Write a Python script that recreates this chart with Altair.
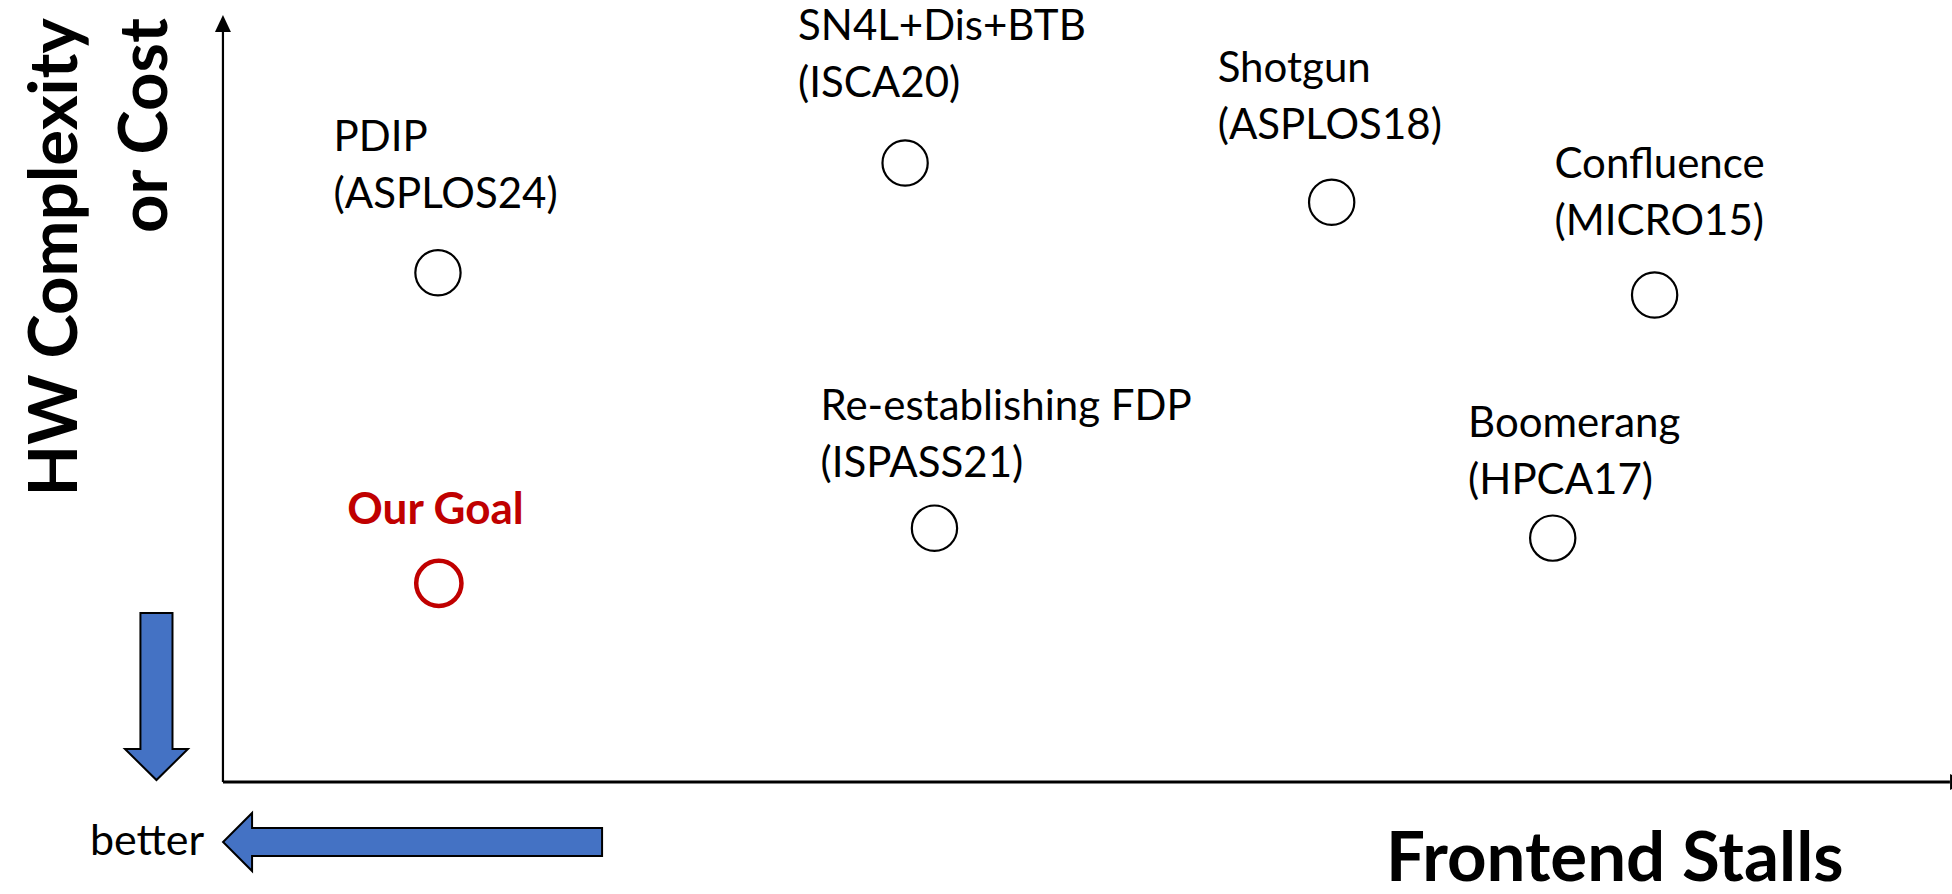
import altair as alt
import pandas as pd

# Prior frontend prefetchers placed by frontend stalls (x) and HW complexity / cost (y).
# Both axes are qualitative scores: 0 at the origin, 100 at the end of each axis arrow.
names = ["PDIP", "SN4L+Dis+BTB", "Shotgun", "Confluence", "Re-establishing FDP", "Boomerang"]
venues = ["(ASPLOS24)", "(ISCA20)", "(ASPLOS18)", "(MICRO15)", "(ISPASS21)", "(HPCA17)"]
stalls = [12.45, 39.5, 64.2, 82.9, 41.2, 77.0]
cost = [66.4, 80.7, 75.6, 63.5, 33.1, 31.8]
label_x = [6.4, 33.3, 57.6, 77.1, 34.6, 72.1]
label_y = [82.3, 96.8, 91.3, 78.7, 47.2, 45.0]

goal_name = ["Our Goal"]
goal_stalls = [12.5]
goal_cost = [25.9]
goal_label_x = [7.2]
goal_label_y = [33.6]

# Axis titles and the "better" hint
y_title_lines = ["HW Complexity", "or Cost"]
y_title_x = [-8.45, -3.24]
y_title_y = [99.6, 99.6]
x_title = ["Frontend Stalls"]
x_title_x = [67.34]
x_title_y = [-12.9]
hint_text = ["better"]
hint_x = [-7.70]
hint_y = [-9.5]

# Block arrows pointing towards the better corner
arrow_x = [-3.85, 10.98]
arrow_y = [11.15, -7.82]

DOWN_ARROW = "M-0.192,-1L0.192,-1L0.192,0.629L0.377,0.629L0,1L-0.377,0.629L-0.192,0.629Z"
LEFT_ARROW = "M1,-0.074L-0.847,-0.074L-0.847,-0.153L-1,0L-0.847,0.153L-0.847,0.074L1,0.074Z"
HEAD_UP = "M0,-1L0.94,1L-0.94,1Z"
HEAD_RIGHT = "M1,0L-1,0.94L-1,-0.94Z"

W, H = 1952, 894
XS = alt.Scale(domain=[-12.91, 100.12], nice=False, zero=False)
YS = alt.Scale(domain=[-14.6, 101.96], nice=False, zero=False)

FONT = "Lato"


def xq(field):
    return alt.X(f"{field}:Q", scale=XS, axis=None)


def yq(field):
    return alt.Y(f"{field}:Q", scale=YS, axis=None)


works = pd.DataFrame({"name": names, "venue": venues, "stalls": stalls, "cost": cost,
                      "lx": label_x, "ly": label_y})
goal = pd.DataFrame({"name": goal_name, "stalls": goal_stalls, "cost": goal_cost,
                     "lx": goal_label_x, "ly": goal_label_y})

# Axes drawn as arrows from the origin
y_axis = alt.Chart(pd.DataFrame({"x": [0], "y": [0], "y2": [97.8]})).mark_rule(
    color="black", strokeWidth=2.2
).encode(x=xq("x"), y=yq("y"), y2="y2:Q")
x_axis = alt.Chart(pd.DataFrame({"x": [0], "x2": [100], "y": [0]})).mark_rule(
    color="black", strokeWidth=3
).encode(x=xq("x"), x2="x2:Q", y=yq("y"))
y_head = alt.Chart(pd.DataFrame({"x": [0], "y": [98.9]})).mark_point(
    shape=HEAD_UP, size=289, filled=True, color="black", opacity=1, strokeWidth=0
).encode(x=xq("x"), y=yq("y"))
x_head = alt.Chart(pd.DataFrame({"x": [100.5], "y": [0]})).mark_point(
    shape=HEAD_RIGHT, size=289, filled=True, color="black", opacity=1, strokeWidth=0
).encode(x=xq("x"), y=yq("y"))

# Hollow circles for each prior design
circles = alt.Chart(works).mark_point(
    shape="circle", size=2050, filled=False, stroke="black", strokeWidth=2.2, opacity=1
).encode(x=xq("stalls"), y=yq("cost"))

name_text = alt.Chart(works).mark_text(
    align="left", baseline="alphabetic", font=FONT, fontSize=42, color="black"
).encode(x=xq("lx"), y=yq("ly"), text="name:N")
venue_text = alt.Chart(works).mark_text(
    align="left", baseline="alphabetic", font=FONT, fontSize=42, color="black", dy=57
).encode(x=xq("lx"), y=yq("ly"), text="venue:N")

goal_circle = alt.Chart(goal).mark_point(
    shape="circle", size=2050, filled=False, stroke="#C00000", strokeWidth=4.5, opacity=1
).encode(x=xq("stalls"), y=yq("cost"))
goal_text = alt.Chart(goal).mark_text(
    align="left", baseline="alphabetic", font=FONT, fontSize=44, fontWeight="bold",
    color="#C00000"
).encode(x=xq("lx"), y=yq("ly"), text="name:N")

# Blue block arrows
down_arrow = alt.Chart(pd.DataFrame({"x": [arrow_x[0]], "y": [arrow_y[0]]})).mark_point(
    shape=DOWN_ARROW, size=167 ** 2, fill="#4472C4", stroke="black", strokeWidth=2,
    fillOpacity=1, strokeOpacity=1, opacity=1
).encode(x=xq("x"), y=yq("y"))
left_arrow = alt.Chart(pd.DataFrame({"x": [arrow_x[1]], "y": [arrow_y[1]]})).mark_point(
    shape=LEFT_ARROW, size=379 ** 2, fill="#4472C4", stroke="black", strokeWidth=2,
    fillOpacity=1, strokeOpacity=1, opacity=1
).encode(x=xq("x"), y=yq("y"))

hint = alt.Chart(pd.DataFrame({"t": hint_text, "x": hint_x, "y": hint_y})).mark_text(
    align="left", baseline="alphabetic", font=FONT, fontSize=43, color="black"
).encode(x=xq("x"), y=yq("y"), text="t:N")

y_title = alt.Chart(pd.DataFrame({"t": y_title_lines, "x": y_title_x, "y": y_title_y})).mark_text(
    align="right", baseline="alphabetic", angle=270, font=FONT, fontSize=67,
    fontWeight="bold", color="black"
).encode(x=xq("x"), y=yq("y"), text="t:N")

x_title_mark = alt.Chart(pd.DataFrame({"t": x_title, "x": x_title_x, "y": x_title_y})).mark_text(
    align="left", baseline="alphabetic", font=FONT, fontSize=69, fontWeight="bold",
    color="black"
).encode(x=xq("x"), y=yq("y"), text="t:N")

chart = alt.layer(
    y_axis, x_axis, y_head, x_head,
    circles, name_text, venue_text,
    goal_circle, goal_text,
    down_arrow, left_arrow, hint,
    y_title, x_title_mark,
).properties(
    width=W, height=H,
    autosize=alt.AutoSizeParams(type="none"),
    padding=0,
    background="white",
).configure_view(stroke=None)

chart.save("out.html", embed_options={"renderer": "svg", "actions": False})
